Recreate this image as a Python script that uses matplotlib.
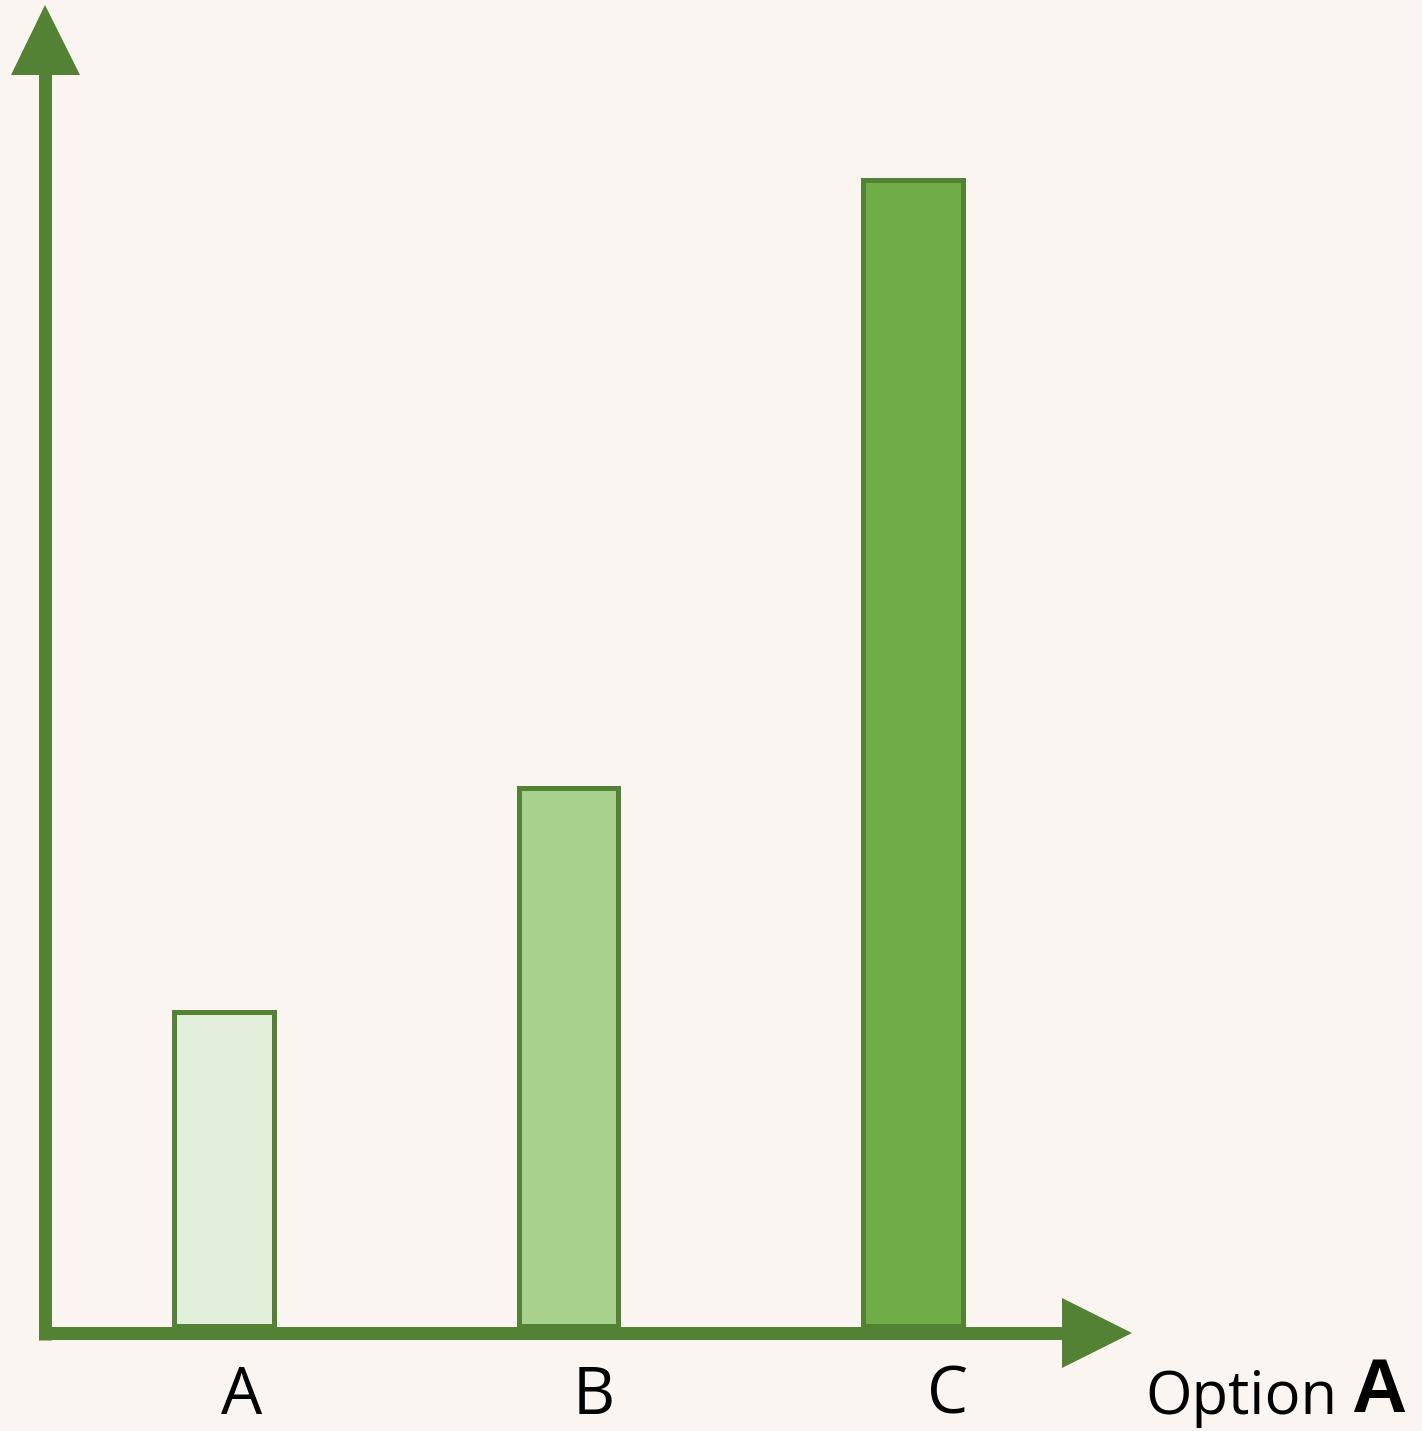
import numpy as np
import matplotlib
matplotlib.use("Agg")
import matplotlib.pyplot as plt
from matplotlib.patches import Polygon
from matplotlib.lines import Line2D

# chart data
categories = ["A", "B", "C"]
values = [2.74, 4.69, 10.0]
fills = ["#E2EFDA", "#A9D18E", "#70AD47"]
axis_label = "Option"
axis_label_bold = "A"

W, H = 1422, 1431
EDGE = "#548235"
BG = "#FAF5F1"

fig = plt.figure(figsize=(W / 100, H / 100), dpi=100, facecolor=BG)
ax = fig.add_axes([0, 0, 1, 1])
ax.set_facecolor(BG)
ax.set_axis_off()

# map data onto the canvas: category spacing 344.5 px, bar A centred at 224 px,
# value 0 at 1326 px from top, 114.65 px per unit
sx, x0 = 344.5, 224.0
sy, y0 = 114.65, 1326.0
ax.set_xlim(-x0 / sx, (W - x0) / sx)
ax.set_ylim(-(H - y0) / sy, y0 / sy)

x = np.arange(len(categories))
ax.bar(x, values, width=0.288, color=fills, edgecolor=EDGE, linewidth=3.6, zorder=2)

# hand drawn axes in pixel space (axes fraction == pixel / size)
def px(xp, yp):
    return (xp / W, 1 - yp / H)

lw = 13 * 0.72
ax.add_line(Line2D(*zip(px(45, 1340), px(45, 70)), transform=ax.transAxes,
                   color=EDGE, lw=lw, solid_capstyle="butt", zorder=3))
ax.add_line(Line2D(*zip(px(39, 1333), px(1066, 1333)), transform=ax.transAxes,
                   color=EDGE, lw=lw, solid_capstyle="butt", zorder=3))
ax.add_patch(Polygon([px(45, 5), px(11, 75), px(80, 75)], closed=True,
                     transform=ax.transAxes, color=EDGE, lw=0, zorder=4))
ax.add_patch(Polygon([px(1132, 1333), px(1062, 1298), px(1062, 1368)], closed=True,
                     transform=ax.transAxes, color=EDGE, lw=0, zorder=4))

# category labels sit a little right of the bar centres
label_shift = [0.05, 0.074, 0.099]
base = -(1414 - y0) / sy
for i, c in enumerate(categories):
    ax.text(x[i] + label_shift[i], base, c, ha="center", va="baseline",
            fontsize=47, family="Open Sans", color="black")

ax.text((1145 - x0) / sx, base, axis_label, ha="left", va="baseline",
        fontsize=43, family="Open Sans", color="black")
ax.text((1351 - x0) / sx, -(1412 - y0) / sy, axis_label_bold, ha="left", va="baseline",
        fontsize=55, family="Liberation Sans", fontweight="bold", color="black")

fig.savefig("out.png", dpi=100, facecolor=BG)
